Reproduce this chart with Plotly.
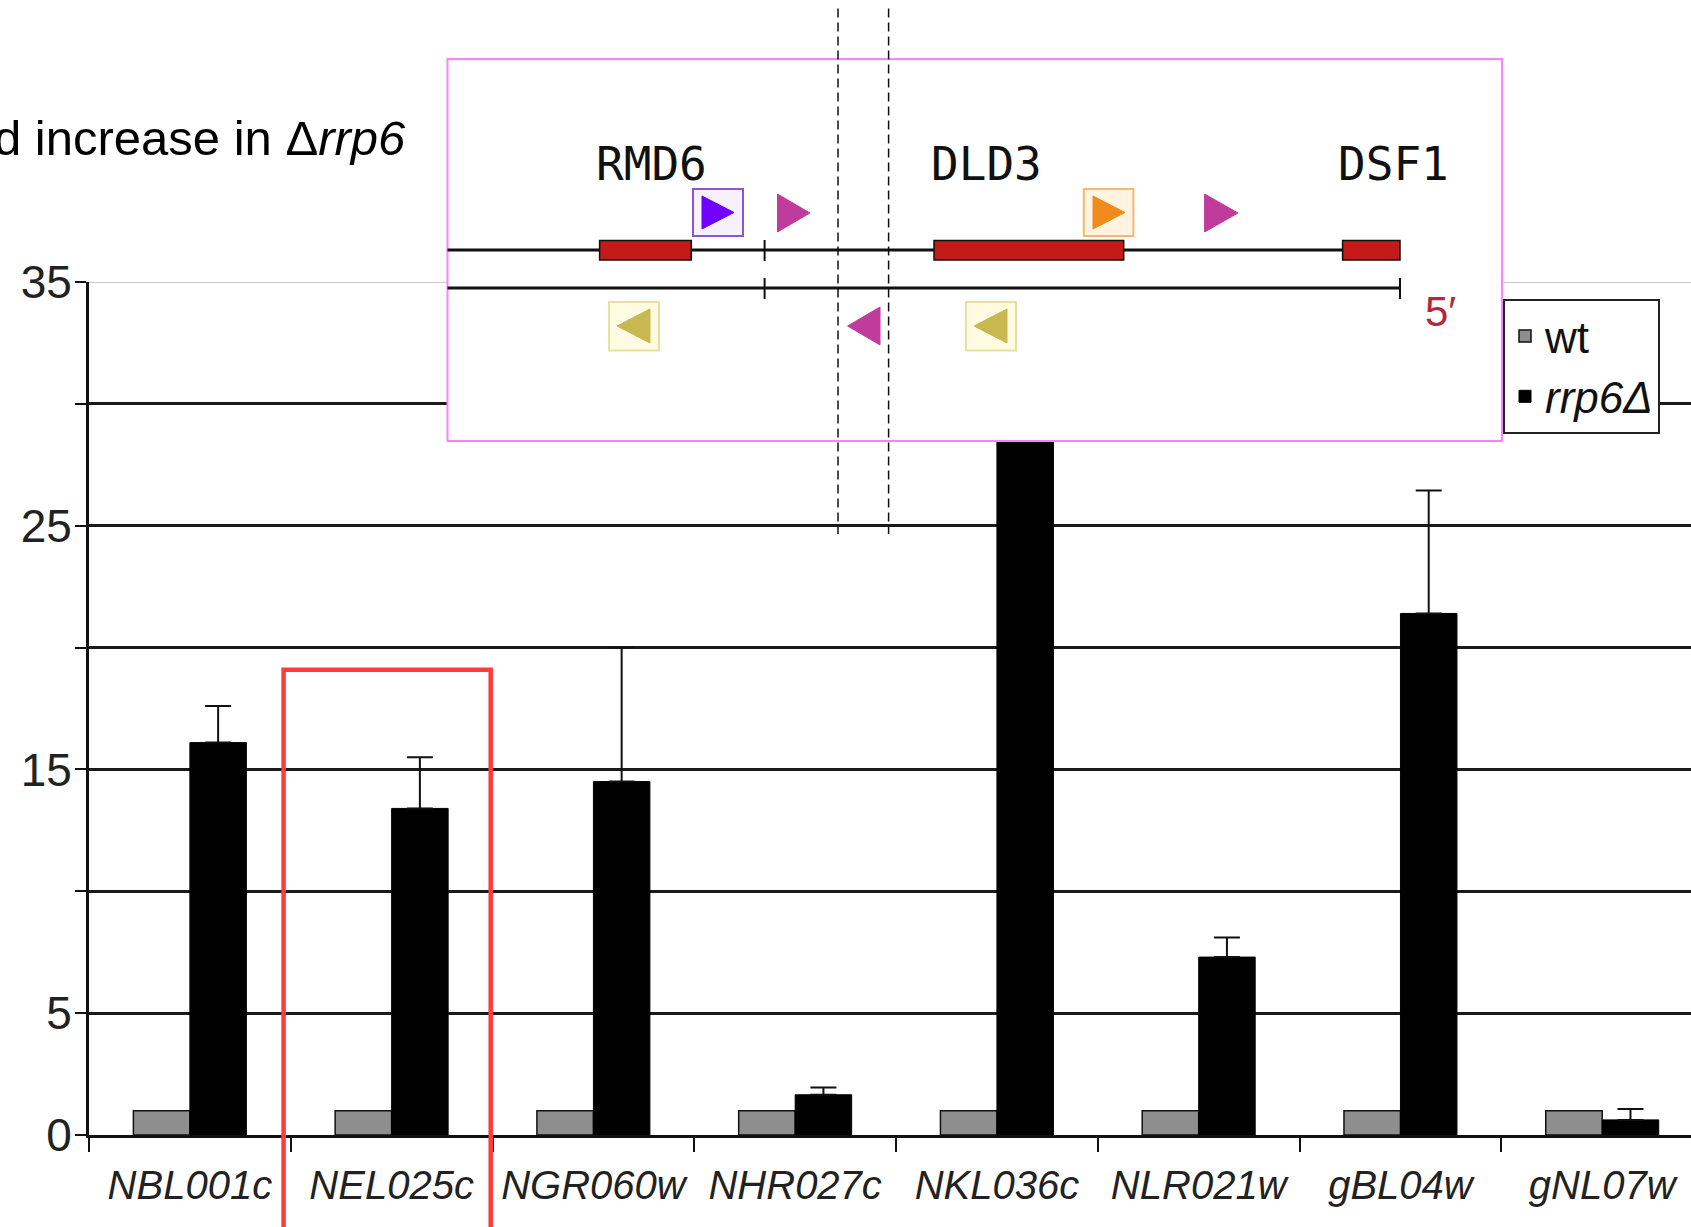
import plotly.graph_objects as go

# ---------------- data ----------------
categories = ["NBL001c", "NEL025c", "NGR060w", "NHR027c",
              "NKL036c", "NLR021w", "gBL04w", "gNL07w"]
wt_values = [1.0, 1.0, 1.0, 1.0, 1.0, 1.0, 1.0, 1.0]
rrp6_values = [16.1, 13.4, 14.5, 1.65, 31.0, 7.3, 21.4, 0.62]
rrp6_errors = [1.5, 2.1, 5.5, 0.3, 1.5, 0.8, 5.05, 0.45]
y_tick_values = [0, 5, 10, 15, 20, 25, 30, 35]
y_tick_labels = ["0", "5", "", "15", "", "25", "", "35"]
gene_names = ["RMD6", "DLD3", "DSF1"]

# ---------------- layout helpers ----------------
W, H = 1691, 1227
L, R, T, B = 89, 0, 282, 92
PW, PH = W - L - R, H - T - B


def px(X):
    return (X - L) / PW


def py(Y):
    return (H - B - Y) / PH


SANS = "Liberation Sans, Arial, Helvetica, sans-serif"
MONO = "DejaVu Sans Mono, monospace"

fig = go.Figure()
fig.add_trace(go.Bar(
    x=categories, y=wt_values, name="wt",
    marker=dict(color="#8e8e8e", line=dict(color="#111111", width=1.5)),
))
fig.add_trace(go.Bar(
    x=categories, y=rrp6_values, name="<i>rrp6Δ</i>",
    marker=dict(color="#000000", line=dict(color="#000000", width=1)),
    error_y=dict(type="data", array=rrp6_errors, symmetric=False,
                 arrayminus=[0] * len(rrp6_errors),
                 color="#111111", thickness=2, width=13),
))

shapes = []
# lighter top gridlines
shapes.append(dict(type="line", xref="paper", yref="y", x0=0, x1=1, y0=35, y1=35,
                   line=dict(color="#c8c8c8", width=2), layer="between"))
shapes.append(dict(type="line", xref="paper", yref="y", x0=0, x1=1, y0=30, y1=30,
                   line=dict(color="#4a4a4a", width=1.5), layer="between"))


def rect(x0, y0, x1, y1, fill, line_color, lw):
    shapes.append(dict(type="rect", xref="paper", yref="paper",
                       x0=px(x0), x1=px(x1), y0=py(y1), y1=py(y0),
                       fillcolor=fill, line=dict(color=line_color, width=lw),
                       layer="above"))


def seg(x0, y0, x1, y1, color="#111111", lw=3, dash="solid"):
    shapes.append(dict(type="line", xref="paper", yref="paper",
                       x0=px(x0), x1=px(x1), y0=py(y0), y1=py(y1),
                       line=dict(color=color, width=lw, dash=dash), layer="above"))


def tri(pts, color):
    p = "M " + " L ".join(f"{px(a):.5f},{py(b):.5f}" for a, b in pts) + " Z"
    shapes.append(dict(type="path", xref="paper", yref="paper", path=p,
                       fillcolor=color, line=dict(color=color, width=1), layer="above"))


# inset panel
rect(447.5, 59, 1502, 441, "white", "#ff80ff", 2)
# strands
seg(447.5, 250, 1400, 250)
seg(447.5, 288, 1400, 288)
seg(1400, 278, 1400, 299, lw=2)
seg(764.6, 240, 764.6, 261, lw=2)
seg(764.6, 278, 764.6, 299, lw=2)
# genes
for gx0, gx1 in [(599.6, 691.3), (934, 1123.7), (1342.6, 1400)]:
    rect(gx0, 240.5, gx1, 260, "#c41a1a", "#111111", 1.5)
# boxed arrowheads
rect(693, 189, 743, 236, "#f6f0ff", "#8a55d8", 2)
tri([(702, 196), (702, 229), (734, 212.5)], "#7000ff")
rect(1083.8, 189, 1133.4, 236, "#fff4e2", "#f5b870", 2)
tri([(1093, 196), (1093, 229), (1125, 212.5)], "#f08a1a")
rect(609, 302, 659, 350.5, "#fffbe2", "#e8dfa0", 2)
tri([(650, 309), (650, 343), (617, 326)], "#c8b850")
rect(966, 302, 1016, 350.5, "#fffbe2", "#e8dfa0", 2)
tri([(1007, 309), (1007, 343), (974, 326)], "#c8b850")
# plain magenta arrowheads
tri([(777.5, 194), (777.5, 232), (810, 213)], "#c03c9c")
tri([(1204.6, 194), (1204.6, 232), (1238, 213)], "#c03c9c")
tri([(880, 307), (880, 345), (847.6, 326)], "#c03c9c")
# dashed guide lines
seg(838, 8.6, 838, 534, lw=1.5, dash="9px,5px")
seg(888.6, 8.6, 888.6, 534, lw=1.5, dash="9px,5px")
# red highlight box
rect(283.6, 669.7, 490.7, 1260, "rgba(0,0,0,0)", "#ff3b3b", 4.5)

annotations = []
for name, gx in zip(gene_names, [651, 986, 1393]):
    annotations.append(dict(xref="paper", yref="paper", x=px(gx), y=py(164),
                            text=name, showarrow=False, xanchor="center", yanchor="middle",
                            font=dict(family=MONO, size=46, color="#111111")))
annotations.append(dict(xref="paper", yref="paper", x=px(1440), y=py(311), text="5′",
                        showarrow=False, xanchor="center", yanchor="middle",
                        font=dict(family=SANS, size=42, color="#b5283c")))
annotations.append(dict(xref="paper", yref="paper", x=px(408), y=py(138),
                        text="d increase in Δ<i>rrp6</i>", showarrow=False,
                        xanchor="right", yanchor="middle",
                        font=dict(family=SANS, size=49, color="#000000")))

fig.update_layout(
    width=W, height=H,
    margin=dict(l=L, r=R, t=T, b=B, pad=0),
    paper_bgcolor="white", plot_bgcolor="white",
    barmode="group", bargap=0.44, bargroupgap=0,
    font=dict(family=SANS, color="#111111"),
    shapes=shapes, annotations=annotations,
    legend=dict(x=px(1503), y=py(299), xanchor="left", yanchor="top",
                bgcolor="white", bordercolor="#222222", borderwidth=2,
                font=dict(family=SANS, size=44, color="#111111"),
                traceorder="normal"),
    xaxis=dict(type="category", range=[-0.5, 7.44],
               showline=True, linecolor="#111111", linewidth=3,
               ticks="outside", tickson="boundaries", ticklen=14, tickwidth=2,
               tickcolor="#111111", showgrid=False,
               tickfont=dict(family=SANS, size=40, color="#222222"),
               ticklabelstandoff=13),
    yaxis=dict(range=[0, 35], tickvals=y_tick_values, ticktext=y_tick_labels,
               showline=True, linecolor="#111111", linewidth=3,
               ticks="outside", ticklen=11, tickwidth=2, tickcolor="#111111",
               showgrid=True, gridcolor="#1a1a1a", gridwidth=2.5, zeroline=False,
               tickfont=dict(family=SANS, size=46, color="#222222"),
               ticklabelstandoff=-6),
)
fig.update_xaxes(tickangle=0)

# italic x tick labels
fig.update_xaxes(ticktext=[f"<i>{c}</i>" for c in categories], tickvals=categories)

fig.write_html("out.html")
